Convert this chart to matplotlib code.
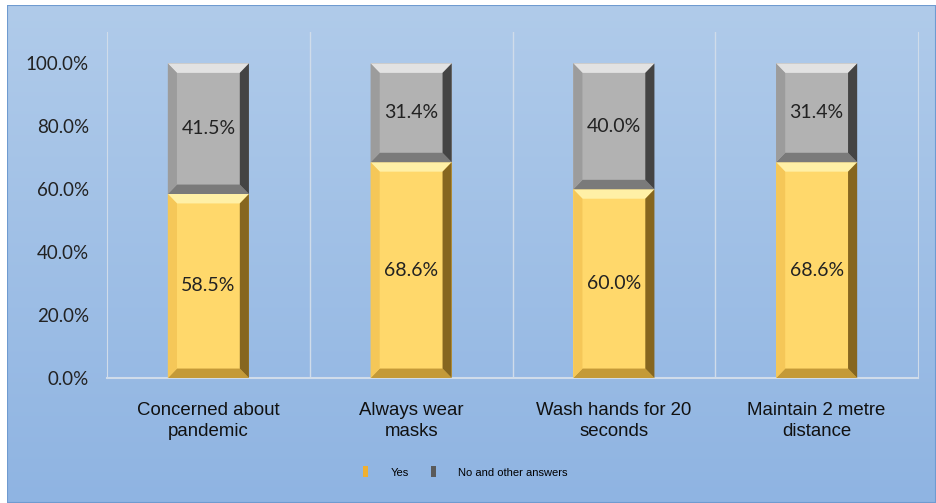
import numpy as np
import matplotlib.pyplot as plt
from matplotlib.patches import Polygon, Patch

categories = ["Concerned about\npandemic", "Always wear\nmasks", "Wash hands for 20\nseconds", "Maintain 2 metre\ndistance"]
yes_vals = [58.5, 68.6, 60.0, 68.6]
no_vals = [41.5, 31.4, 40.0, 31.4]
yticks = [0, 20, 40, 60, 80, 100]

gold = {"face": "#ffd86b", "top": "#fff0a6", "left": "#f5c758", "right": "#86661f", "bottom": "#c49a38"}
grey = {"face": "#b2b2b2", "top": "#e2e2e2", "left": "#9c9c9c", "right": "#444444", "bottom": "#7a7a7a"}

fig = plt.figure(figsize=(9.36, 5.03), dpi=100)
fig.patch.set_facecolor("white")

# gradient background
bg = fig.add_axes([7 / 936, 0, 1 - 7 / 936, 1 - 5 / 503])
grad = np.linspace(0, 1, 256).reshape(-1, 1)
top_c = np.array([176, 203, 234]) / 255
bot_c = np.array([143, 180, 226]) / 255
img = top_c * (1 - grad[..., None]) + bot_c * grad[..., None]
bg.imshow(img, aspect="auto", extent=[0, 1, 0, 1])
bg.set_axis_off()
bg.add_patch(plt.Rectangle((0, 0), 1, 1, fill=False, ec="#6f9bd0", lw=1.5, transform=bg.transAxes))

ax = fig.add_axes([107 / 936, 1 - 378 / 503, (918 - 107) / 936, (378 - 32) / 503])
ax.patch.set_alpha(0)
x = np.arange(len(categories))
w = 0.4


def bevel(ax, xc, y0, y1, c):
    x0, x1 = xc - w / 2, xc + w / 2
    dx, dy = 0.045, 3.0
    ax.add_patch(Polygon([(x0, y1), (x1, y1), (x1 - dx, y1 - dy), (x0 + dx, y1 - dy)], fc=c["top"], ec="none", zorder=3))
    ax.add_patch(Polygon([(x0, y0), (x1, y0), (x1 - dx, y0 + dy), (x0 + dx, y0 + dy)], fc=c["bottom"], ec="none", zorder=3))
    ax.add_patch(Polygon([(x0, y0), (x0, y1), (x0 + dx, y1 - dy), (x0 + dx, y0 + dy)], fc=c["left"], ec="none", zorder=3))
    ax.add_patch(Polygon([(x1, y0), (x1, y1), (x1 - dx, y1 - dy), (x1 - dx, y0 + dy)], fc=c["right"], ec="none", zorder=3))


ax.bar(x, yes_vals, w, color=gold["face"], zorder=2)
ax.bar(x, no_vals, w, bottom=yes_vals, color=grey["face"], zorder=2)
for i in range(len(categories)):
    bevel(ax, x[i], 0, yes_vals[i], gold)
    bevel(ax, x[i], yes_vals[i], yes_vals[i] + no_vals[i], grey)
    ax.text(x[i], yes_vals[i] / 2, f"{yes_vals[i]:.1f}%", ha="center", va="center",
            fontsize=14, family="Lato", color="#222222", zorder=4)
    ax.text(x[i], yes_vals[i] + no_vals[i] / 2, f"{no_vals[i]:.1f}%", ha="center", va="center",
            fontsize=14, family="Lato", color="#222222", zorder=4)

ax.set_xlim(-0.5, 3.5)
ax.set_ylim(0, 110)
ax.set_yticks(yticks)
ax.set_yticklabels([f"{v:.1f}%" for v in yticks], family="Lato", fontsize=13.5, color="#222222")
ax.set_xticks(x)
ax.set_xticklabels(categories, family="Liberation Sans", fontsize=13.4, color="#111111", linespacing=1.3)
ax.tick_params(axis="y", length=0, pad=13)
ax.tick_params(axis="x", length=0, pad=17)
for b in [0.5, 1.5, 2.5]:
    ax.axvline(b, color="#d0dcea", lw=1, zorder=1)
ax.spines["top"].set_visible(False)
ax.spines["left"].set_color("#d0dcea")
ax.spines["right"].set_color("#d0dcea")
ax.spines["bottom"].set_color("#d0dcea")
ax.spines["bottom"].set_linewidth(1.5)

handles = [Patch(facecolor="#f0b030", edgecolor="none"), Patch(facecolor="#5a5a5a", edgecolor="none")]
fig.legend(handles, ["Yes", "No and other answers"], loc="center", bbox_to_anchor=(0.497, 1 - 472 / 503),
           ncol=2, frameon=False, handlelength=0.45, handleheight=1.1, columnspacing=2.0, handletextpad=2.0,
           prop={"family": "Liberation Sans", "size": 8})

fig.savefig("out.png", dpi=100)
